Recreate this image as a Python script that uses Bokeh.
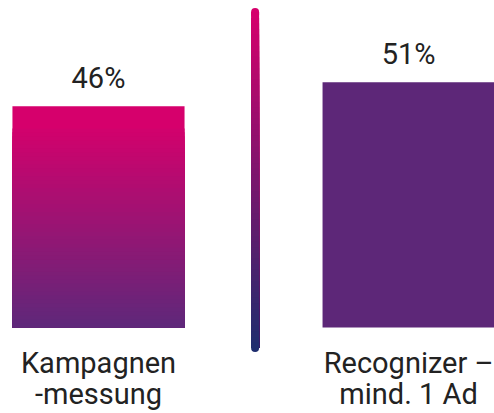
import numpy as np
from bokeh.plotting import figure
from bokeh.models import Range1d, ColumnDataSource
from bokeh.embed import file_html
from bokeh.resources import INLINE
from bokeh.core.properties import value

# ---- data ----
cat_line1 = ["Kampagnen", "Recognizer –"]
cat_line2 = ["-messung", "mind. 1 Ad"]
values = [46, 51]
labels = ["46%", "51%"]

PINK = (214, 0, 108)
PURPLE = (94, 40, 122)
BAR_RIGHT = "#5d2778"
LINE_TOP = (214, 0, 108)
LINE_BOTTOM = (30, 45, 110)

def mix(c1, c2, t):
    return "#%02x%02x%02x" % tuple(int(round(a + (b - a) * t)) for a, b in zip(c1, c2))

p = figure(width=494, height=413, output_backend="svg", toolbar_location=None,
           x_range=Range1d(-0.316, 1.277), y_range=Range1d(-17.9, 68.0),
           min_border=0, min_border_left=0, min_border_right=0,
           min_border_top=0, min_border_bottom=0)
p.axis.visible = False
p.grid.visible = False
p.outline_line_color = None
p.background_fill_color = "white"
p.border_fill_color = "white"

bw = 0.555

# left bar: gradient (pink band on top, fading to purple at base)
v0 = values[0]
band = 4.6
n = 50
grad_top = v0 - band
edges = np.linspace(0, grad_top, n + 1)
# draw stacked from tallest to shortest so each overwrites the lower part (no seams)
tops = edges[1:][::-1]
cols = [mix(PURPLE, PINK, ((n - 1 - i) + 0.5) / n * 0.97) for i in range(n)]
p.quad(left=[0 - bw / 2], right=[0 + bw / 2], bottom=[0], top=[v0],
       fill_color=mix(PINK, PINK, 0), line_color=None)
p.quad(left=0 - bw / 2, right=0 + bw / 2, bottom=0, top=tops,
       fill_color=cols, line_color=None)

# right bar: solid purple
p.quad(left=[1 - bw / 2], right=[1 + bw / 2], bottom=[0], top=[values[1]],
       fill_color=BAR_RIGHT, line_color=None)

# centre divider with gradient
ly_top, ly_bot = 65.6, -4.3
m = 60
ys = np.linspace(ly_top, ly_bot, m + 1)[:-1]
seg_cols = [mix(LINE_TOP, LINE_BOTTOM, (i + 0.5) / m) for i in range(m)]
p.segment(x0=[0.505, 0.505], x1=[0.505, 0.505], y0=[ly_top, ly_bot], y1=[ly_top - 0.5, ly_bot + 0.5],
          line_color=[mix(LINE_TOP, LINE_BOTTOM, 0), mix(LINE_TOP, LINE_BOTTOM, 1)],
          line_width=8, line_cap="round")
p.segment(x0=0.505, x1=0.505, y0=ys, y1=ly_bot, line_color=seg_cols,
          line_width=8, line_cap="butt")

# value labels
src = ColumnDataSource(dict(x=[0, 1], y=values, t=labels))
p.text(x="x", y="y", text="t", source=src, text_align="center", text_baseline="alphabetic",
       y_offset=-28, text_font=value("Roboto"), text_font_size="29px", text_color="#222222")

# category labels
p.text(x=[0, 1], y=[0, 0], text=cat_line1, text_align="center", text_baseline="alphabetic",
       y_offset=36, text_font=value("Roboto"), text_font_size="29px", text_color="#222222")
p.text(x=[0, 1], y=[0, 0], text=cat_line2, text_align="center", text_baseline="alphabetic",
       y_offset=67, text_font=value("Roboto"), text_font_size="29px", text_color="#222222")

open("out.html", "w").write(file_html(p, INLINE))
